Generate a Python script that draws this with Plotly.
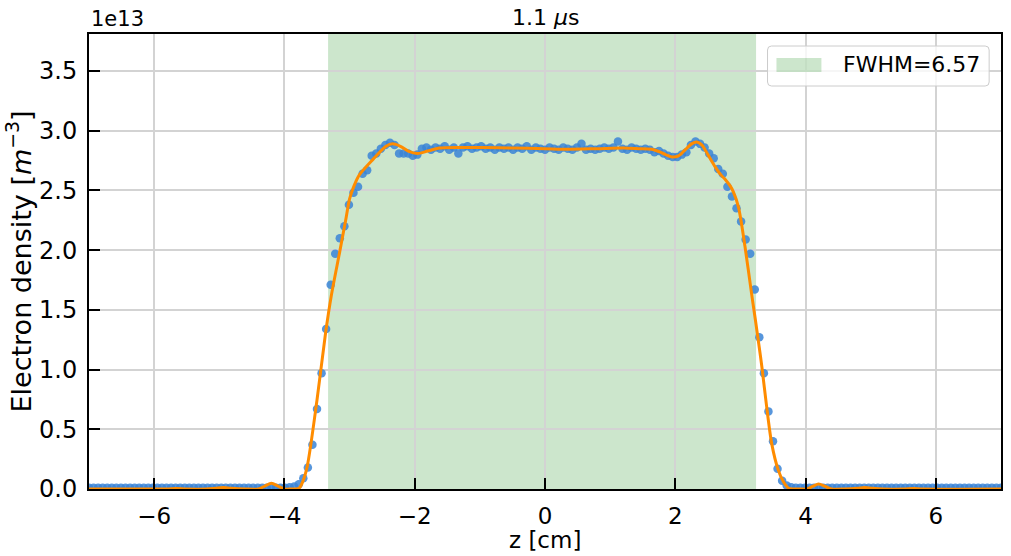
import plotly.graph_objects as go

# Axial electron density profile at t = 1.1 us (values in units of 1e13 m^-3)
z_start = -7.0
z_step = 0.07
n_points = 201
z_cm = [round(z_start + z_step * i, 2) for i in range(n_points)]

density_left_base = [
    0.01, 0.01, 0.01, 0.01, 0.01, 0.01, 0.01, 0.01, 0.01, 0.01,
    0.01, 0.01, 0.01, 0.01, 0.01, 0.01, 0.01, 0.01, 0.01, 0.01,
    0.01, 0.01, 0.01, 0.01, 0.01, 0.01, 0.01, 0.01, 0.01, 0.01,
    0.01, 0.01, 0.01, 0.01, 0.01, 0.01, 0.01, 0.01, 0.01, 0.01,
    0.01, 0.01, 0.01, 0.01, 0.015,
]
density_left_edge = [
    0.02, 0.04, 0.09, 0.18, 0.37, 0.67, 0.97, 1.34, 1.71, 1.97,
    2.10, 2.20, 2.38, 2.48, 2.53, 2.64, 2.67, 2.79, 2.81, 2.85,
    2.88, 2.90, 2.88, 2.81, 2.81, 2.81, 2.79, 2.80, 2.85,
]
density_plateau = [
    2.86, 2.84, 2.86, 2.85, 2.87, 2.84, 2.86, 2.81, 2.86, 2.87,
    2.85, 2.86, 2.87, 2.85, 2.86, 2.84, 2.86, 2.85, 2.86, 2.84,
    2.86, 2.85, 2.87, 2.84, 2.86, 2.85, 2.84, 2.86, 2.85, 2.84,
    2.86, 2.85, 2.84, 2.86, 2.89, 2.84, 2.85, 2.84, 2.85, 2.86,
    2.85, 2.86, 2.91, 2.85, 2.84, 2.86, 2.85, 2.84, 2.85, 2.84,
    2.82, 2.83, 2.81, 2.79, 2.78,
]
density_right_edge = [
    2.78, 2.80, 2.82, 2.88, 2.91, 2.89, 2.86, 2.81, 2.77, 2.68,
    2.64, 2.53, 2.45, 2.35, 2.24, 2.09, 1.97, 1.67, 1.27, 0.97,
    0.65, 0.40, 0.17, 0.07, 0.03,
]
density_right_base = [
    0.015, 0.01, 0.01, 0.01, 0.01, 0.01, 0.01, 0.01, 0.01, 0.01,
    0.01, 0.01, 0.01, 0.01, 0.01, 0.01, 0.01, 0.01, 0.01, 0.01,
    0.01, 0.01, 0.01, 0.01, 0.01, 0.01, 0.01, 0.01, 0.01, 0.01,
    0.01, 0.01, 0.01, 0.01, 0.01, 0.01, 0.01, 0.01, 0.01, 0.01,
    0.01, 0.01, 0.01, 0.01, 0.01, 0.01, 0.01,
]
density = (density_left_base + density_left_edge + density_plateau
           + density_right_edge + density_right_base)

# Smoothed fit of the profile
fit_z = [
    -7.0, -6.0, -5.8, -5.66, -5.5, -5.2, -5.06, -4.94, -4.82, -4.6,
    -4.4, -4.3, -4.2, -4.1, -4.0, -3.9, -3.82, -3.77, -3.72, -3.65,
    -3.5, -3.37, -3.28, -3.15, -3.06, -3.0, -2.93, -2.85, -2.64, -2.44,
    -2.34, -2.22, -2.1, -1.96, -1.8, -1.62, -1.3, -0.96, -0.5, 0.0,
    0.32, 0.8, 1.2, 1.44, 1.64, 1.75, 1.85, 1.95, 2.05, 2.15,
    2.25, 2.33, 2.41, 2.5, 2.61, 2.7, 2.77, 2.84, 2.89, 2.97,
    3.07, 3.17, 3.23, 3.28, 3.33, 3.4, 3.48, 3.58, 3.66, 3.74,
    3.82, 3.92, 4.02, 4.11, 4.2, 4.3, 4.4, 4.6, 4.8, 4.91,
    5.02, 5.2, 5.5, 5.66, 5.8, 7.0,
]
fit_density = [
    0.0, 0.0, 0.0, 0.004, 0.0, 0.0, 0.006, 0.012, 0.006, 0.0,
    0.0, 0.025, 0.048, 0.025, 0.0, 0.0, 0.0, 0.01, 0.06, 0.19,
    0.745, 1.30, 1.62, 1.99, 2.25, 2.43, 2.54, 2.63, 2.76, 2.87,
    2.89, 2.87, 2.83, 2.81, 2.83, 2.855, 2.86, 2.86, 2.855, 2.85,
    2.845, 2.85, 2.855, 2.85, 2.845, 2.825, 2.80, 2.78, 2.79, 2.84,
    2.89, 2.905, 2.88, 2.80, 2.70, 2.63, 2.59, 2.54, 2.49, 2.36,
    2.03, 1.64, 1.415, 1.22, 1.02, 0.70, 0.38, 0.16, 0.06, 0.005,
    0.0, 0.0, 0.0, 0.022, 0.042, 0.022, 0.0, 0.0, 0.006, 0.012,
    0.006, 0.0, 0.0, 0.004, 0.0, 0.0,
]

fwhm_left = -3.33
fwhm_right = 3.24
fwhm_label = "FWHM=6.57"

x_ticks = [-6, -4, -2, 0, 2, 4, 6]
y_ticks = [0.0, 0.5, 1.0, 1.5, 2.0, 2.5, 3.0, 3.5]
y_top = 3.81

FONT = "DejaVu Sans"
SPAN_FILL = "rgba(0,128,0,0.2)"

fig = go.Figure()

# FWHM band, drawn beneath the grid
fig.add_shape(
    type="rect", xref="x", yref="paper", x0=fwhm_left, x1=fwhm_right,
    y0=0, y1=1, fillcolor=SPAN_FILL, line_width=0, layer="below",
)

fig.add_trace(go.Scatter(
    x=z_cm, y=density, mode="markers", showlegend=False,
    marker=dict(size=8.5, color="rgba(58,132,214,0.85)", line_width=0),
))
fig.add_trace(go.Scatter(
    x=fit_z, y=fit_density, mode="lines", showlegend=False,
    line=dict(color="#ff8c00", width=3, shape="spline", smoothing=0.8),
))


def rounded_box(x0, y0, x1, y1, rx, ry):
    """SVG path of a rectangle with rounded corners (paper coordinates)."""
    return (f"M{x0 + rx},{y0} L{x1 - rx},{y0} Q{x1},{y0} {x1},{y0 + ry} "
            f"L{x1},{y1 - ry} Q{x1},{y1} {x1 - rx},{y1} "
            f"L{x0 + rx},{y1} Q{x0},{y1} {x0},{y1 - ry} "
            f"L{x0},{y0 + ry} Q{x0},{y0} {x0 + rx},{y0} Z")


# Legend frame, patch and label
plot_w, plot_h = 914, 455
fig.add_shape(
    type="path", xref="paper", yref="paper", layer="above",
    path=rounded_box(0.744, 0.8857, 0.987, 0.9736, 4 / plot_w, 4 / plot_h),
    fillcolor="rgba(255,255,255,0.8)", line=dict(color="#cccccc", width=1),
)
fig.add_shape(
    type="rect", xref="paper", yref="paper", layer="above",
    x0=0.7538, x1=0.8031, y0=0.9165, y1=0.9473,
    fillcolor=SPAN_FILL, line_width=0,
)

axis_common = dict(
    showline=True, linecolor="black", linewidth=2, mirror=True,
    ticks="inside", ticklen=11, tickwidth=2, tickcolor="black",
    showgrid=True, gridcolor="#d3d3d3", gridwidth=2, zeroline=False,
    tickfont=dict(family=FONT, size=23, color="black"),
)

fig.update_xaxes(range=[-7, 7], tickvals=x_ticks, ticklabelstandoff=5,
                 **axis_common)
fig.update_yaxes(range=[0, y_top], tickvals=y_ticks, tickformat=".1f",
                 ticklabelstandoff=5, tickfont_size=24,
                 **{k: v for k, v in axis_common.items() if k != "tickfont"},
                 tickfont_family=FONT, tickfont_color="black")

fig.update_layout(
    width=1011, height=556,
    margin=dict(l=89, r=8, t=34, b=67),
    paper_bgcolor="white", plot_bgcolor="white",
    font=dict(family=FONT, color="black"),
    showlegend=False,
    title=dict(text="1.1 <i>μ</i>s", x=0.5397, xanchor="center",
               y=1 - 17 / 556, yanchor="middle",
               font=dict(family=FONT, size=22, color="black")),
    annotations=[
        dict(text=fwhm_label, xref="paper", yref="paper", x=0.825, y=0.9319,
             xanchor="left", yanchor="middle", showarrow=False,
             font=dict(family=FONT, size=22, color="black")),
        dict(text="1e13", xref="paper", yref="paper", x=0, y=1,
             xanchor="left", yanchor="bottom", yshift=1, showarrow=False,
             font=dict(family=FONT, size=21, color="black")),
        dict(text="z [cm]", xref="paper", yref="paper", x=0.5, y=0,
             xanchor="center", yanchor="middle", yshift=-51, showarrow=False,
             font=dict(family=FONT, size=23, color="black")),
        dict(text="Electron density [<i>m</i><sup>−3</sup>]", xref="paper",
             yref="paper", x=0, y=0.5, xanchor="center", yanchor="middle",
             xshift=-70, textangle=-90, showarrow=False,
             font=dict(family=FONT, size=27, color="black")),
    ],
)

fig.write_html("out.html")
